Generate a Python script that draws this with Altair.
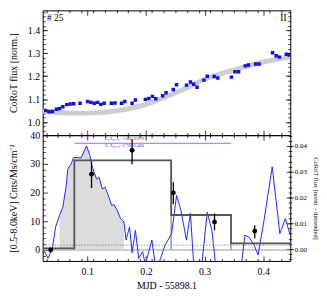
import altair as alt
import pandas as pd

FONT = "Liberation Serif"
W, H1, H2 = 250, 126, 127

# ---------------- data ----------------
X_DOM = [0.024, 0.446]
TOP_DOM = [0.943, 1.487]
L_DOM = [-3.8, 40.0]
R_DOM = [-0.0046, 0.0442]

# top panel: CoRoT flux (blue squares) and trend (grey band)
top_x = [0.0292, 0.0348, 0.0405, 0.0472, 0.0528, 0.0584, 0.0651, 0.0708, 0.0769, 0.0877,
         0.1005, 0.1062, 0.1118, 0.1174, 0.1231, 0.1287, 0.1410, 0.1472, 0.1585, 0.1640,
         0.1764, 0.1821, 0.1989, 0.2050, 0.2112, 0.2168, 0.2286, 0.2343, 0.2466, 0.2522,
         0.2691, 0.2758, 0.2815, 0.2871, 0.2989, 0.3045, 0.3163, 0.3225, 0.3456, 0.3517,
         0.3579, 0.3692, 0.3747, 0.3870, 0.3928, 0.4157, 0.4219, 0.4275, 0.4393, 0.4440]
top_y = [1.050, 1.045, 1.046, 1.056, 1.059, 1.067, 1.076, 1.079, 1.080, 1.082,
         1.090, 1.086, 1.082, 1.086, 1.077, 1.082, 1.082, 1.083, 1.082, 1.090,
         1.082, 1.096, 1.099, 1.103, 1.112, 1.102, 1.115, 1.128, 1.142, 1.163,
         1.161, 1.175, 1.165, 1.152, 1.183, 1.200, 1.199, 1.192, 1.196, 1.219,
         1.219, 1.245, 1.249, 1.253, 1.253, 1.302, 1.289, 1.283, 1.296, 1.292]
trend_x = [0.024, 0.05, 0.08, 0.11, 0.14, 0.17, 0.20, 0.235, 0.27, 0.30, 0.33, 0.37, 0.40, 0.446]
trend_y = [1.048, 1.042, 1.039, 1.040, 1.046, 1.058, 1.077, 1.112, 1.150, 1.187, 1.212, 1.242, 1.262, 1.285]

# bottom panel: detrended CoRoT flux (blue line, right axis)
blue_x = [0.024, 0.0275, 0.0331, 0.0405, 0.0461, 0.0528, 0.0584, 0.0641, 0.0668, 0.0725,
          0.0764, 0.0837, 0.0894, 0.0988, 0.1046, 0.1089, 0.1157, 0.1202, 0.1258, 0.1303,
          0.1359, 0.1416, 0.1455, 0.1511, 0.1568, 0.1624, 0.1662, 0.1720, 0.1764, 0.1821,
          0.1876, 0.1944, 0.1989, 0.2101, 0.2158, 0.2214, 0.2326, 0.2438, 0.2522, 0.2596,
          0.2691, 0.2758, 0.2820, 0.2943, 0.3045, 0.3124, 0.3196, 0.3618, 0.3686, 0.3760,
          0.3844, 0.3911, 0.4013, 0.4152, 0.4282, 0.4376, 0.446]
blue_y = [-0.0023, -0.0010, -0.0036, 0.0003, 0.0086, 0.0131, 0.0163, 0.0246, 0.0310, 0.0330,
          0.0355, 0.0355, 0.0353, 0.0400, 0.0362, 0.0317, 0.0272, 0.0278, 0.0233, 0.0240,
          0.0208, 0.0169, 0.0173, 0.0150, 0.0118, 0.0105, 0.0035, 0.0086, -0.0014, 0.0073,
          -0.0036, -0.0010, -0.0060, 0.0035, -0.0060, -0.0060, 0.0015, 0.0060, 0.0208, 0.0150,
          0.0035, 0.0140, -0.0080, -0.0080, 0.0143, 0.0073, -0.0080, -0.0080, 0.0054, 0.0045,
          0.0015, -0.0023, 0.0112, 0.0319, 0.0060, 0.0118, 0.0054]
fill_range = [0.0528, 0.1624]

# X-ray Bayesian blocks (left axis)
block_edges = [0.024, 0.078, 0.243, 0.345, 0.446]
block_levels = [0.6, 31.2, 12.2, 2.3]
dotted_level = 1.7
pink_x = [0.078, 0.345]
pink_level = 37.1

# binned X-ray rates with errors
pt_x = [0.0376, 0.1073, 0.1764, 0.2467, 0.3169, 0.3854]
pt_y = [0.0, 26.4, 34.7, 19.9, 9.8, 6.6]
pt_lo = [-0.8, 21.6, 29.9, 15.9, 6.9, 4.0]
pt_hi = [0.8, 30.8, 38.6, 23.6, 12.7, 8.6]

# ticks
X_MAJ = [0.1, 0.2, 0.3, 0.4]
X_MIN = [round(0.03 + 0.02 * i, 3) for i in range(21)]
TY_MAJ = [1.0, 1.1, 1.2, 1.3, 1.4]
TY_MIN = [round(0.96 + 0.02 * i, 3) for i in range(27)]
L_MAJ = [0, 10, 20, 30, 40]
L_MIN = [-2, 2, 4, 6, 8, 12, 14, 16, 18, 22, 24, 26, 28, 32, 34, 36, 38]
R_MAJ = [0.0, 0.01, 0.02, 0.03, 0.04]
R_MIN = [round(-0.004 + 0.002 * i, 3) for i in range(25)]

# annotations
label_num = "# 25"
label_class = "II"
label_pos = {"num": (0.0315, 1.476), "cls": (0.4396, 1.476)}
e_texts = ["E₀/Lₚₑₐₖ=1.866/0.070", "E₁/Lₚₑₐₖ=2.700/0.400"]
e_x = 0.1303
e_y = [38.7, 36.3]
e_colors = ["#555555", "#3333ff"]


# ---------------- helpers ----------------
def sx():
    return alt.Scale(domain=X_DOM, nice=False, zero=False)


def sy(dom):
    return alt.Scale(domain=dom, nice=False, zero=False)


def X(field="x"):
    return alt.X(f"{field}:Q", scale=sx(), axis=None, title=None)


def Y(dom, field="y"):
    return alt.Y(f"{field}:Q", scale=sy(dom), axis=None, title=None)


def tick_axis(orient, offset, values, size, width=0.8):
    return alt.Axis(orient=orient, offset=offset, values=values, labels=False,
                    ticks=True, tickSize=size, tickWidth=width, tickColor="black",
                    domain=False, grid=False)


def axis_layer(ydom, xaxis, yaxis, xtitle=None, ytitle=None):
    d = pd.DataFrame({"x": X_DOM, "y": ydom})
    return alt.Chart(d).mark_point(opacity=0, size=0).encode(
        x=alt.X("x:Q", scale=sx(), axis=xaxis, title=xtitle),
        y=alt.Y("y:Q", scale=sy(ydom), axis=yaxis, title=ytitle),
    )


# ---------------- top panel ----------------
df_top = pd.DataFrame({"x": top_x, "y": top_y})
df_trend = pd.DataFrame({"x": trend_x, "y": trend_y})

band = alt.Chart(df_trend).mark_line(color="#cdcdcd", strokeWidth=5, interpolate="monotone",
                                     clip=True).encode(x=X(), y=Y(TOP_DOM))
squares = alt.Chart(df_top).mark_square(color="#0a0aff", size=12, opacity=1, clip=True).encode(
    x=X(), y=Y(TOP_DOM))
df_lab = pd.DataFrame({"x": [label_pos["num"][0]], "y": [label_pos["num"][1]], "t": [label_num]})
df_cls = pd.DataFrame({"x": [label_pos["cls"][0]], "y": [label_pos["cls"][1]], "t": [label_class]})
txt_num = alt.Chart(df_lab).mark_text(font=FONT, fontSize=9.5, align="left", baseline="top",
                                      color="black").encode(x=X(), y=Y(TOP_DOM), text="t:N")
txt_cls = alt.Chart(df_cls).mark_text(font=FONT, fontSize=9.5, align="right", baseline="top",
                                      color="black").encode(x=X(), y=Y(TOP_DOM), text="t:N")

top_main_y = alt.Axis(orient="left", values=TY_MAJ, format=".1f", ticks=False, domain=False,
                      grid=False, labelFont=FONT, labelFontSize=10, labelPadding=3,
                      labelColor="black", titleFont=FONT, titleFontSize=10,
                      titleFontWeight="normal", titleColor="black", titlePadding=9)

top = alt.layer(
    band, squares, txt_num, txt_cls,
    axis_layer(TOP_DOM, None, top_main_y, ytitle="CoRoT flux [norm.]"),
    axis_layer(TOP_DOM, tick_axis("top", -H1, X_MAJ, 5), tick_axis("right", -W, TY_MAJ, 5)),
    axis_layer(TOP_DOM, tick_axis("bottom", -H1, X_MAJ, 5), tick_axis("left", -W, TY_MAJ, 5)),
    axis_layer(TOP_DOM, tick_axis("top", -H1, X_MIN, 2.5), tick_axis("right", -W, TY_MIN, 2.5)),
    axis_layer(TOP_DOM, tick_axis("bottom", -H1, X_MIN, 2.5), tick_axis("left", -W, TY_MIN, 2.5)),
).resolve_scale(x="independent", y="independent").properties(width=W, height=H1)

# ---------------- bottom panel ----------------
df_blue = pd.DataFrame({"x": blue_x, "y": blue_y})
df_fill = df_blue[(df_blue.x >= fill_range[0]) & (df_blue.x <= fill_range[1])]
df_blocks = pd.DataFrame({"x": block_edges[:-1], "x2": block_edges[1:],
                          "y": [0.0] * len(block_levels), "y2": block_levels})
df_step = pd.DataFrame({"x": block_edges, "y": block_levels + [block_levels[-1]]})
df_dot = pd.DataFrame({"x": [X_DOM[0]], "x2": [X_DOM[1]], "y": [dotted_level]})
df_pink = pd.DataFrame({"x": [pink_x[0]], "x2": [pink_x[1]], "y": [pink_level]})
df_pts = pd.DataFrame({"x": pt_x, "y": pt_y, "lo": pt_lo, "hi": pt_hi})
df_e = pd.DataFrame({"x": [e_x, e_x], "y": e_y, "t": e_texts, "c": e_colors})

fill = alt.Chart(df_fill).mark_area(color="#dcdcdc", opacity=1, clip=True).encode(
    x=X(), y=Y(R_DOM), y2=alt.datum(0))
blocks = alt.Chart(df_blocks).mark_rect(fillOpacity=0, stroke="#9a9a9a", strokeWidth=1,
                                        clip=True).encode(
    x=X(), x2="x2:Q", y=Y(L_DOM), y2="y2:Q")
dotted = alt.Chart(df_dot).mark_rule(color="#777777", strokeWidth=0.8, strokeDash=[1.5, 1.5]).encode(
    x=X(), x2="x2:Q", y=Y(L_DOM))
blue = alt.Chart(df_blue).mark_line(color="#1a2aff", strokeWidth=1, clip=True).encode(
    x=X(), y=Y(R_DOM))
step = alt.Chart(df_step).mark_line(color="#555555", strokeWidth=1.8, interpolate="step-after",
                                    clip=True).encode(x=X(), y=Y(L_DOM))
pink = alt.Chart(df_pink).mark_rule(color="#f06cf0", strokeWidth=1.3).encode(
    x=X(), x2="x2:Q", y=Y(L_DOM))
errs = alt.Chart(df_pts).mark_rule(color="black", strokeWidth=1.3, clip=True).encode(
    x=X(), y=Y(L_DOM, "lo"), y2="hi:Q")
pts = alt.Chart(df_pts).mark_circle(color="black", size=24, opacity=1, clip=True).encode(
    x=X(), y=Y(L_DOM))
etxt = alt.Chart(df_e).mark_text(font=FONT, fontSize=4.6, align="left", baseline="middle").encode(
    x=X(), y=Y(L_DOM), text="t:N", color=alt.Color("c:N", scale=None))

bot_main_x = alt.Axis(orient="bottom", values=X_MAJ, format=".1f", ticks=False, domain=False,
                      grid=False, labelFont=FONT, labelFontSize=10, labelPadding=6,
                      labelColor="black", titleFont=FONT, titleFontSize=10,
                      titleFontWeight="normal", titleColor="black", titlePadding=4)
bot_main_y = alt.Axis(orient="left", values=L_MAJ, format="d", ticks=False, domain=False,
                      grid=False, labelFont=FONT, labelFontSize=10, labelPadding=3,
                      labelColor="black", titleFont=FONT, titleFontSize=10,
                      titleFontWeight="normal", titleColor="black", titlePadding=11)
right_y = alt.Axis(orient="right", values=R_MAJ, format=".2f", ticks=True, tickSize=3,
                   tickWidth=0.8, tickColor="black", domain=False, grid=False,
                   labelFont=FONT, labelFontSize=7, labelPadding=1, labelColor="black",
                   titleFont=FONT, titleFontSize=6.5, titleFontWeight="normal",
                   titleColor="black", titlePadding=6)
right_minor = alt.Axis(orient="right", values=R_MIN, labels=False, ticks=True, tickSize=1.5,
                       tickWidth=0.8, tickColor="black", domain=False, grid=False)

bottom = alt.layer(
    fill, blocks, dotted, blue, step, pink, errs, pts, etxt,
    axis_layer(L_DOM, bot_main_x, bot_main_y, xtitle="MJD - 55898.1",
               ytitle="[0.5-8.0keV] Cnts/Ms/cm⁻²"),
    axis_layer(R_DOM, None, right_y, ytitle="CoRoT flux [norm. - detrended]"),
    axis_layer(R_DOM, None, right_minor),
    axis_layer(L_DOM, tick_axis("top", -H2, X_MAJ, 5), tick_axis("right", -W, L_MAJ, 5)),
    axis_layer(R_DOM, tick_axis("bottom", -H2, X_MAJ, 5), tick_axis("left", -W, R_MAJ, 4)),
    axis_layer(L_DOM, tick_axis("top", -H2, X_MIN, 2.5), tick_axis("right", -W, L_MIN, 2.5)),
    axis_layer(R_DOM, tick_axis("bottom", -H2, X_MIN, 2.5), tick_axis("left", -W, R_MIN, 2)),
).resolve_scale(x="independent", y="independent").properties(width=W, height=H2)

chart = alt.vconcat(top, bottom, spacing=0, bounds="flush").configure_view(
    stroke="black", strokeWidth=1).properties(padding={"left": 0, "top": 0, "right": 0, "bottom": 0})

chart.save("out.html", embed_options={"renderer": "svg", "actions": False})
